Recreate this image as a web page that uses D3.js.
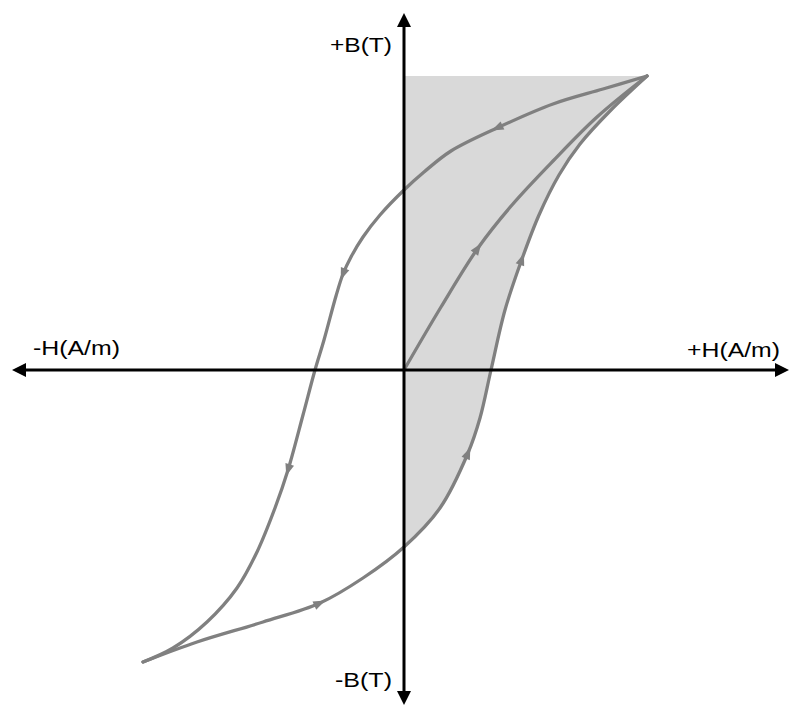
<!DOCTYPE html>
<html>
<head>
<meta charset="utf-8">
<script src="https://cdn.jsdelivr.net/npm/d3@7"></script>
<style>
  html, body { margin: 0; padding: 0; background: #fff; }
  svg { display: block; }
  text { font-family: "Liberation Sans", Arial, sans-serif; fill: #000; }
</style>
</head>
<body>
<svg id="chart" width="790" height="706"></svg>
<script>
// Hysteresis loop (arbitrary units of H and B)
// Descending branch: from positive saturation down to negative saturation
const upperBranch = [
  [2.43, 2.94], [1.99, 2.81], [1.49, 2.66], [0.93, 2.42], [0.47, 2.19],
  [0.20, 1.98], [0.00, 1.80], [-0.24, 1.55], [-0.41, 1.33], [-0.53, 1.13],
  [-0.61, 0.96], [-0.68, 0.74], [-0.80, 0.30], [-0.89, 0.00], [-1.01, -0.45],
  [-1.16, -1.00], [-1.29, -1.38], [-1.47, -1.82], [-1.67, -2.18], [-1.97, -2.52],
  [-2.31, -2.78], [-2.61, -2.92]
];
// Ascending branch: from negative saturation back up to positive saturation
const lowerBranch = [
  [-2.61, -2.92], [-2.07, -2.72], [-1.41, -2.52], [-0.84, -2.33], [-0.41, -2.08],
  [0.00, -1.77], [0.36, -1.38], [0.64, -0.83], [0.76, -0.48], [0.87, 0.00],
  [1.01, 0.60], [1.18, 1.11], [1.35, 1.55], [1.55, 1.95], [1.76, 2.26],
  [2.06, 2.59], [2.43, 2.94]
];
// Initial magnetisation curve from the origin
const initialCurve = [
  [0.00, 0.00], [0.37, 0.63], [0.74, 1.22], [1.08, 1.65], [1.49, 2.09],
  [1.93, 2.53], [2.43, 2.94]
];
// Vertices that carry a direction arrow
const upperArrows = [3, 10, 15];
const lowerArrows = [3, 7, 11];
const initialArrows = [2];

// Axis extents and labels
const hExtent = [-3.92, 3.85];
const bExtent = [-3.35, 3.57];
const axisLabels = ["+B(T)", "-B(T)", "-H(A/m)", "+H(A/m)"];

const svg = d3.select("#chart");
const x = d3.scaleLinear().domain([-1, 1]).range([304, 504]);
const y = d3.scaleLinear().domain([-1, 1]).range([470, 270]);

const curveColor = "#808080";
const line = d3.line().x(d => x(d[0])).y(d => y(d[1])).curve(d3.curveCatmullRom.alpha(0.5));

// Shaded region: between the B axis and the ascending branch, up to saturation
const startIdx = lowerBranch.findIndex(d => d[0] >= 0);
const shadeSeg = lowerBranch.slice(startIdx);
const topB = shadeSeg[shadeSeg.length - 1][1];
svg.append("path")
  .attr("d", line(shadeSeg) + "L" + x(0) + "," + y(topB) + "Z")
  .attr("fill", "#d9d9d9")
  .attr("stroke", "none");

// Curves and their direction arrows
function drawCurve(data, arrows) {
  const p = svg.append("path")
    .attr("d", line(data))
    .attr("fill", "none")
    .attr("stroke", curveColor)
    .attr("stroke-width", 3.3)
    .attr("stroke-linejoin", "round")
    .attr("stroke-linecap", "round");
  const node = p.node();
  const total = node.getTotalLength();
  arrows.forEach(i => {
    const tx = x(data[i][0]), ty = y(data[i][1]);
    let best = 0, bestD = Infinity;
    for (let L = 0; L <= total; L += 0.5) {
      const pt = node.getPointAtLength(L);
      const dd = (pt.x - tx) ** 2 + (pt.y - ty) ** 2;
      if (dd < bestD) { bestD = dd; best = L; }
    }
    const a = node.getPointAtLength(Math.max(0, best - 3));
    const b = node.getPointAtLength(Math.min(total, best + 3));
    const ang = Math.atan2(b.y - a.y, b.x - a.x) * 180 / Math.PI;
    const c = node.getPointAtLength(best);
    svg.append("path")
      .attr("d", "M6,0L-6,-4.5L-6,4.5Z")
      .attr("fill", curveColor)
      .attr("transform", `translate(${c.x},${c.y}) rotate(${ang})`);
  });
}
drawCurve(initialCurve, initialArrows);
drawCurve(lowerBranch, lowerArrows);
drawCurve(upperBranch, upperArrows);

// Axes with arrowheads at both ends
const axisG = svg.append("g");
axisG.append("line")
  .attr("x1", x(hExtent[0]) + 8).attr("x2", x(hExtent[1]) - 8)
  .attr("y1", y(0)).attr("y2", y(0))
  .attr("stroke", "#000").attr("stroke-width", 3);
axisG.append("line")
  .attr("x1", x(0)).attr("x2", x(0))
  .attr("y1", y(bExtent[1]) + 8).attr("y2", y(bExtent[0]) - 8)
  .attr("stroke", "#000").attr("stroke-width", 3);
const head = "M0,0L-14,-7L-14,7Z";
[[x(hExtent[1]), y(0), 0], [x(hExtent[0]), y(0), 180],
 [x(0), y(bExtent[1]), -90], [x(0), y(bExtent[0]), 90]].forEach(([hx, hy, r]) => {
  axisG.append("path").attr("d", head).attr("fill", "#000")
    .attr("transform", `translate(${hx},${hy}) rotate(${r})`);
});

// Axis labels
const labelSpec = [
  { t: axisLabels[0], x: 330, y: 52, w: 62 },
  { t: axisLabels[1], x: 335, y: 687, w: 57 },
  { t: axisLabels[2], x: 33, y: 355, w: 87 },
  { t: axisLabels[3], x: 687, y: 357, w: 93 }
];
svg.append("g").selectAll("text").data(labelSpec).join("text")
  .attr("x", d => d.x).attr("y", d => d.y)
  .attr("font-size", 21)
  .attr("textLength", d => d.w)
  .attr("lengthAdjust", "spacingAndGlyphs")
  .text(d => d.t);
</script>
</body>
</html>
